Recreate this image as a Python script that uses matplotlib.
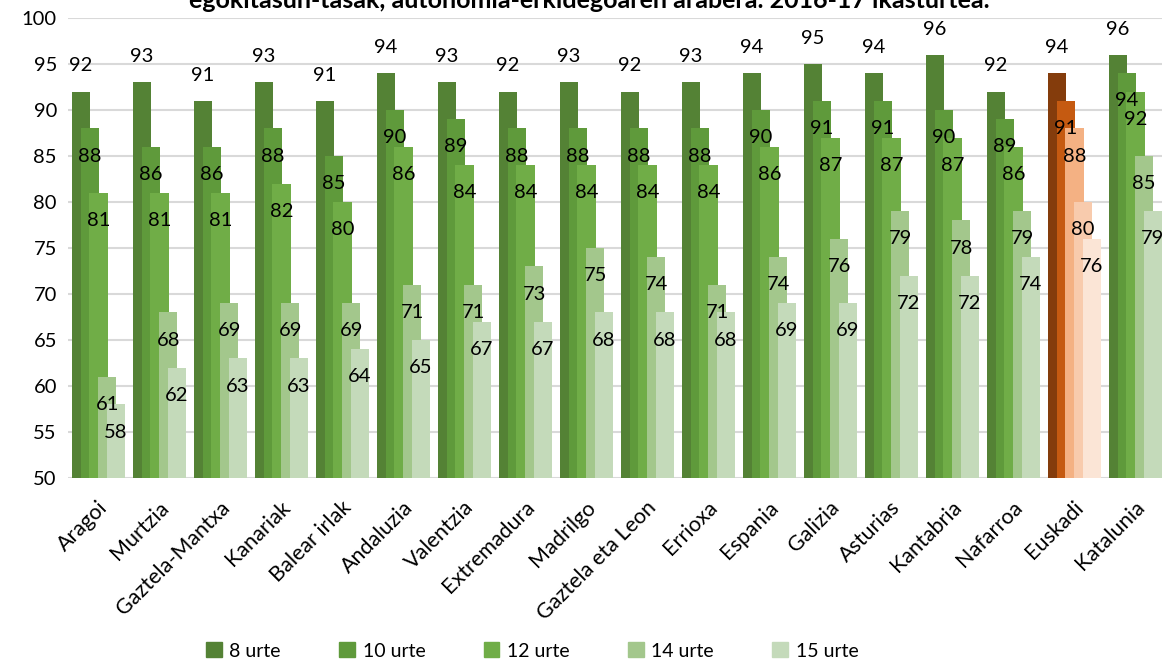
import numpy as np
import matplotlib.pyplot as plt
from matplotlib.transforms import ScaledTranslation

plt.rcParams['font.family'] = ['Lato', 'DejaVu Sans']

# data
regions = ["Aragoi", "Murtzia", "Gaztela-Mantxa", "Kanariak", "Balear irlak",
           "Andaluzia", "Valentzia", "Extremadura", "Madrilgo", "Gaztela eta Leon",
           "Errioxa", "Espania", "Galizia", "Asturias", "Kantabria", "Nafarroa",
           "Euskadi", "Katalunia"]
ages = ["8 urte", "10 urte", "12 urte", "14 urte", "15 urte"]
urte8 = [92, 93, 91, 93, 91, 94, 93, 92, 93, 92, 93, 94, 95, 94, 96, 92, 94, 96]
urte10 = [88, 86, 86, 88, 85, 90, 89, 88, 88, 88, 88, 90, 91, 91, 90, 89, 91, 94]
urte12 = [81, 81, 81, 82, 80, 86, 84, 84, 84, 84, 84, 86, 87, 87, 87, 86, 88, 92]
urte14 = [61, 68, 69, 69, 69, 71, 71, 73, 75, 74, 71, 74, 76, 79, 78, 79, 80, 85]
urte15 = [58, 62, 63, 63, 64, 65, 67, 67, 68, 68, 68, 69, 69, 72, 72, 74, 76, 79]
series = [urte8, urte10, urte12, urte14, urte15]

greens = ["#548235", "#5F9A3B", "#70AD47", "#A3C78C", "#C4DABA"]
oranges = ["#843C0C", "#C55A11", "#F4B183", "#F8CBAD", "#FBE5D6"]
highlight = "Euskadi"

fig = plt.figure(figsize=(11.62, 6.61), dpi=100)
ax = fig.add_axes([68 / 1162, 1 - 478 / 661, 1098 / 1162, 460 / 661])

x = np.arange(len(regions))
width = 0.30
step = 0.143
offsets = (np.arange(5) - 2) * step

for i, (vals, col) in enumerate(zip(series, greens)):
    colors = [oranges[i] if r == highlight else col for r in regions]
    ax.bar(x + offsets[i], np.array(vals) - 50, width, bottom=50, color=colors,
           label=ages[i], zorder=2 + i)
    for xi, v in zip(x, vals):
        dy = 18.5 if i == 0 else -20
        ax.annotate(str(v), (xi + offsets[i], v), xytext=(0, dy),
                    textcoords="offset points", ha="center", va="center",
                    fontsize=14.5, color="black", zorder=10)

ax.set_xlim(-0.5, len(regions) - 0.5)
ax.set_ylim(50, 100)
ax.set_yticks(range(50, 101, 5))
ax.grid(axis="y", color="#D9D9D9", linewidth=1.5, zorder=0)
ax.set_axisbelow(True)
for s in ax.spines.values():
    s.set_visible(False)
ax.tick_params(axis="y", length=0, labelsize=14.5, pad=8)
ax.tick_params(axis="x", length=0, pad=19)
ax.set_xticks(x)
ax.set_xticklabels(regions, rotation=45, ha="right", va="center",
                   rotation_mode="anchor", fontsize=15.5)
# nudge category labels a little to the right
shift = ScaledTranslation(6 / 100, 0, fig.dpi_scale_trans)
for lab in ax.get_xticklabels():
    lab.set_transform(lab.get_transform() + shift)

fig.text(0.507, 1 - 8 / 661, "egokitasun-tasak, autonomia-erkidegoaren arabera. 2016-17 ikasturtea.",
         ha="center", va="baseline", fontsize=18, fontweight="bold")

handles = [plt.Rectangle((0, 0), 1, 1, color=c) for c in greens]
fig.legend(handles, ages, loc="center", bbox_to_anchor=(0.458, 1 - 651 / 661),
           ncol=5, frameon=False, fontsize=14, handlelength=0.8, handleheight=0.8,
           columnspacing=3.0, handletextpad=0.4)

fig.savefig("out.png", dpi=100)
